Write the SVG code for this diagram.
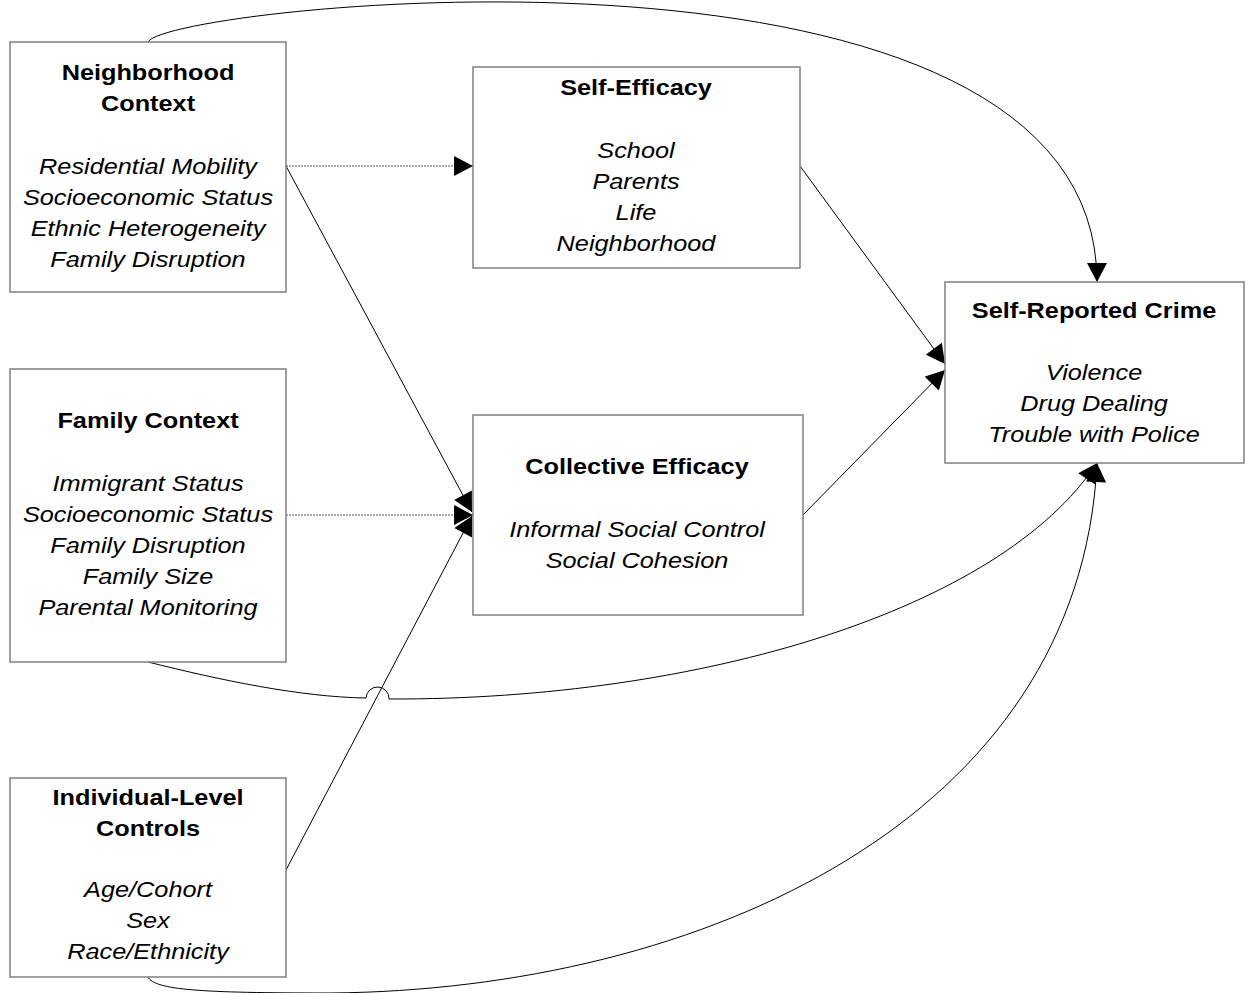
<svg xmlns="http://www.w3.org/2000/svg" width="1251" height="993" viewBox="0 0 1251 993">
<style>
.box{fill:#fff;stroke:#808080;stroke-width:1.5}
.t{font-family:"Liberation Sans",Arial,sans-serif;font-size:22px;font-weight:bold;text-anchor:middle;fill:#000}
.i{font-family:"Liberation Sans",Arial,sans-serif;font-size:22px;font-style:italic;text-anchor:middle;fill:#000}
.c{fill:none;stroke:#000;stroke-width:1}
.d{fill:none;stroke:#555;stroke-width:1;stroke-dasharray:2 1}
</style>
<defs>
<marker id="ar" markerUnits="userSpaceOnUse" markerWidth="20" markerHeight="20" viewBox="0 0 18 19" refX="18" refY="9.5" orient="auto">
<path d="M0,0 L18,9.5 L0,19 z" fill="#000"/>
</marker>
</defs>
<rect width="1251" height="993" fill="#fff"/>
<g id="connectors">
<path class="d" d="M286,166 L473,166" marker-end="url(#ar)"/>
<path class="c" d="M286,166 L472,512" marker-end="url(#ar)"/>
<path class="d" d="M286,515 L473,515" marker-end="url(#ar)"/>
<path class="c" d="M286,870 L472,516" marker-end="url(#ar)"/>
<path class="c" d="M800,166 L945,364" marker-end="url(#ar)"/>
<path class="c" d="M803,515 L945,370" marker-end="url(#ar)"/>
<path class="c" d="M148,42 C165,5 1097,-95 1097,282" marker-end="url(#ar)"/>
<path class="c" d="M148,662 C220,680 300,697 366,698 A11.5,11.5 0 0 1 389,699 C700,700 1000,610 1097,463" marker-end="url(#ar)"/>
<path class="c" d="M148,977 C155,990 200,993 330,993 C700,990 1080,820 1097,463" marker-end="url(#ar)"/>
</g>
<g id="neighborhood">
<rect class="box" x="10" y="42" width="276" height="250"/>
<text class="t" transform="translate(148,80) scale(1.15,1)">Neighborhood</text>
<text class="t" transform="translate(148,111) scale(1.15,1)">Context</text>
<text class="i" transform="translate(148,174) scale(1.15,1)">Residential Mobility</text>
<text class="i" transform="translate(148,205) scale(1.15,1)">Socioeconomic Status</text>
<text class="i" transform="translate(148,236) scale(1.15,1)">Ethnic Heterogeneity</text>
<text class="i" transform="translate(148,267) scale(1.15,1)">Family Disruption</text>
</g>
<g id="self-efficacy">
<rect class="box" x="473" y="67" width="327" height="201"/>
<text class="t" transform="translate(636,95) scale(1.15,1)">Self-Efficacy</text>
<text class="i" transform="translate(636,158) scale(1.15,1)">School</text>
<text class="i" transform="translate(636,189) scale(1.15,1)">Parents</text>
<text class="i" transform="translate(636,220) scale(1.15,1)">Life</text>
<text class="i" transform="translate(636,251) scale(1.15,1)">Neighborhood</text>
</g>
<g id="crime">
<rect class="box" x="945" y="282" width="299" height="181"/>
<text class="t" transform="translate(1094,318) scale(1.15,1)">Self-Reported Crime</text>
<text class="i" transform="translate(1094,380) scale(1.15,1)">Violence</text>
<text class="i" transform="translate(1094,411) scale(1.15,1)">Drug Dealing</text>
<text class="i" transform="translate(1094,442) scale(1.15,1)">Trouble with Police</text>
</g>
<g id="family">
<rect class="box" x="10" y="369" width="276" height="293"/>
<text class="t" transform="translate(148,428) scale(1.15,1)">Family Context</text>
<text class="i" transform="translate(148,491) scale(1.15,1)">Immigrant Status</text>
<text class="i" transform="translate(148,522) scale(1.15,1)">Socioeconomic Status</text>
<text class="i" transform="translate(148,553) scale(1.15,1)">Family Disruption</text>
<text class="i" transform="translate(148,584) scale(1.15,1)">Family Size</text>
<text class="i" transform="translate(148,615) scale(1.15,1)">Parental Monitoring</text>
</g>
<g id="collective-efficacy">
<rect class="box" x="473" y="415" width="330" height="200"/>
<text class="t" transform="translate(637,474) scale(1.15,1)">Collective Efficacy</text>
<text class="i" transform="translate(637,537) scale(1.15,1)">Informal Social Control</text>
<text class="i" transform="translate(637,568) scale(1.15,1)">Social Cohesion</text>
</g>
<g id="individual">
<rect class="box" x="10" y="778" width="276" height="199"/>
<text class="t" transform="translate(148,805) scale(1.15,1)">Individual-Level</text>
<text class="t" transform="translate(148,836) scale(1.15,1)">Controls</text>
<text class="i" transform="translate(148,897) scale(1.15,1)">Age/Cohort</text>
<text class="i" transform="translate(148,928) scale(1.15,1)">Sex</text>
<text class="i" transform="translate(148,959) scale(1.15,1)">Race/Ethnicity</text>
</g>
</svg>
